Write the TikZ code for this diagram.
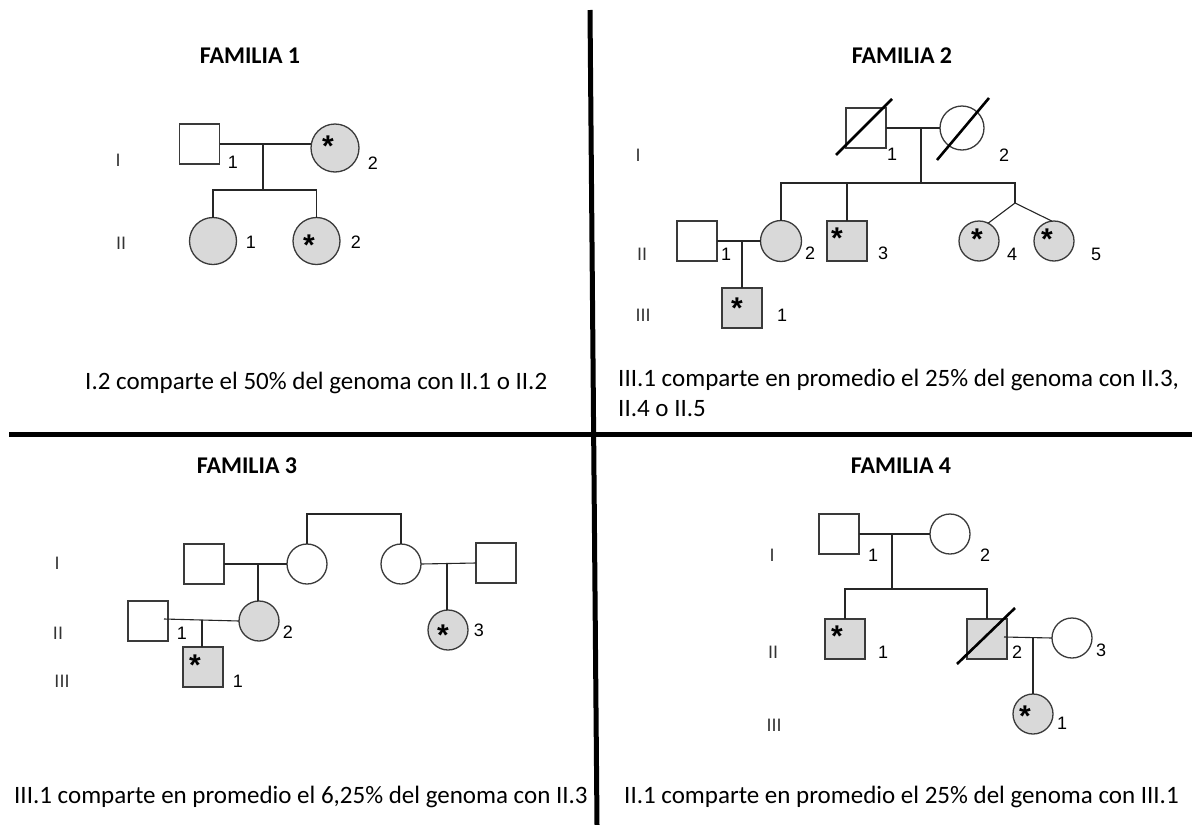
\documentclass[tikz,border=0pt]{standalone}
\usepackage{fontspec}
\usetikzlibrary{calc}
\newfontfamily\calib{Carlito}
\newfontfamily\arialf{Liberation Sans}
\definecolor{outline}{HTML}{3A3A3A}
\definecolor{affected}{HTML}{D9D9D9}
\tikzset{
  ind/.style={draw=outline, line width=1.3pt, inner sep=0pt, outer sep=0pt, fill=white},
  male/.style={ind, rectangle, minimum size=40pt},
  female/.style={ind, circle, minimum size=40pt},
  aff/.style={fill=affected},
  link/.style={draw=black!85, line width=1.1pt},
  slash/.style={draw=black, line width=2.6pt},
  divider/.style={draw=black, line width=5pt},
  num/.style={font=\arialf\fontsize{18}{20}\selectfont, inner sep=0pt},
  gen/.style={font=\arialf\fontsize{18}{20}\selectfont, text=black!80, inner sep=0pt},
  astk/.style={font=\arialf\bfseries\fontsize{30}{30}\selectfont, inner sep=0pt, anchor=north},
  famtitle/.style={font=\calib\bfseries\fontsize{24}{28}\selectfont, inner sep=0pt},
  summary/.style={font=\calib\fontsize{25}{30}\selectfont, inner sep=0pt, anchor=west, align=left},
}
\begin{document}
\begin{tikzpicture}[x=1pt, y=-1pt]
\useasboundingbox (0,0) rectangle (1192,825);

% quadrant dividers
\draw[divider] (590,10) -- (597,825);
\draw[divider] (9,434) -- (1192,434);

% ---------------- FAMILIA 1 ----------------
\node[famtitle] (t1) at (250,56) {FAMILIA 1};
\node[male] (f1a) at (199.5,144) {};
\node[female,aff,minimum size=48pt] (f1b) at (335,148) {};
\node[female,aff,minimum size=47pt] (f1c) at (213,241) {};
\node[female,aff,minimum size=47pt] (f1d) at (316.5,241) {};
\coordinate (f1m) at (263,144);
\coordinate (f1s) at (263,190);
\draw[link] (f1a.east) -- (f1a.east -| f1b.west);
\draw[link] (f1m) -- (f1s);
\draw[link] (f1c.north) |- (f1s) -| (f1d.north);
\node[astk] (f1bs) at (328,136) {*};
\node[astk] (f1ds) at (309,235) {*};
\node[gen] (f1g1) at (118,160) {I};
\node[gen] (f1g2) at (121,243) {II};
\node[num] (f1n1) at (233,162) {1};
\node[num] (f1n2) at (373,163) {2};
\node[num] (f1n3) at (251,242) {1};
\node[num] (f1n4) at (356,242) {2};
\node[summary] (f1t) at (85,383) {I.2 comparte el 50\% del genoma con II.1 o II.2};

% ---------------- FAMILIA 2 ----------------
\node[famtitle] (t2) at (902,56) {FAMILIA 2};
\node[male] (f2a) at (866,128) {};
\node[female,minimum size=44pt] (f2b) at (962,128) {};
\draw[slash] ($(f2a.center)+(-30,27)$) -- ($(f2a.center)+(26,-29)$);
\draw[slash] ($(f2b.center)+(-25,32)$) -- ($(f2b.center)+(27,-30)$);
\coordinate (f2m) at (921,128);
\coordinate (f2s) at (921,183);
\coordinate (f2t) at (1015,203);
\draw[link] (f2a.east) -- (f2b.west);
\draw[link] (f2m) -- (f2s);
\node[female,aff,minimum size=41pt] (f2c) at (781,241) {};
\node[male,aff] (f2d) at (847,241) {};
\node[female,aff] (f2e) at (979,241) {};
\node[female,aff] (f2f) at (1054,241) {};
\node[male] (f2g) at (697,241) {};
\node[male,aff] (f2h) at (742,308) {};
\draw[link] (f2c.north) |- (f2t |- f2s) -- (f2t);
\draw[link] (f2d.north) -- (f2d.north |- f2s);
\draw[link] (f2t) -- (f2e.63);
\draw[link] (f2t) -- (f2f.96);
\draw[link] (f2g.east) -- (f2c.west);
\coordinate (f2k) at (742,241);
\draw[link] (f2k) -- (f2h.north);
\node[astk] (f2ds) at (837,228) {*};
\node[astk] (f2es) at (977,229) {*};
\node[astk] (f2fs) at (1047,229) {*};
\node[astk] (f2hs) at (737,298) {*};
\node[gen] (f2g1) at (638,155) {I};
\node[gen] (f2g2) at (642,254) {II};
\node[gen] (f2g3) at (643,315) {III};
\node[num] (f2n1) at (892,154) {1};
\node[num] (f2n2) at (1004,155) {2};
\node[num] (f2n3) at (726,254) {1};
\node[num] (f2n4) at (810,253) {2};
\node[num] (f2n5) at (883,253) {3};
\node[num] (f2n6) at (1012,254) {4};
\node[num] (f2n7) at (1096,254) {5};
\node[num] (f2n8) at (782,315) {1};
\node[summary, anchor=north west] (f2t) at (618,369) {III.1 comparte en promedio el 25\% del genoma con II.3,\\II.4 o II.5};

% ---------------- FAMILIA 3 ----------------
\node[famtitle] (t3) at (247,466) {FAMILIA 3};
\node[male] (f3a) at (204,564) {};
\node[female] (f3b) at (307,564) {};
\node[male] (f3c) at (148,621) {};
\node[female,aff] (f3d) at (259,621) {};
\node[male,aff] (f3e) at (203,667) {};
\node[female] (f3f) at (401,564) {};
\node[male] (f3g) at (496,563) {};
\node[female,aff] (f3h) at (448,630) {};
\coordinate (f3m) at (258,564);
\draw[link] (f3a.east) -- (f3b.west);
\draw[link] (f3m) -- (f3m |- f3d.north);
\draw[link] ($(f3c.center)+(16,-2)$) -- (f3d.west);
\coordinate (f3k) at (202,620);
\draw[link] (f3k) -- (f3k |- f3e.north);
\draw[link] (f3b.north) -- ++(0,-30) -| (f3f.north);
\draw[link] (f3f.east) -- (f3g.west);
\coordinate (f3n) at (447,563);
\draw[link] (f3n) -- (f3n |- f3h.north);
\node[astk] (f3es) at (195,655) {*};
\node[astk] (f3hs) at (443,625) {*};
\node[gen] (f3g1) at (57,563) {I};
\node[gen] (f3g2) at (58,633) {II};
\node[gen] (f3g3) at (62,681) {III};
\node[num] (f3n1) at (182,633) {1};
\node[num] (f3n2) at (288,632) {2};
\node[num] (f3n3) at (238,681) {1};
\node[num] (f3n4) at (479,630) {3};
\node[summary] (f3t) at (14,797) {III.1 comparte en promedio el 6,25\% del genoma con II.3};

% ---------------- FAMILIA 4 ----------------
\node[famtitle] (t4) at (901,466) {FAMILIA 4};
\node[male] (f4a) at (839,534) {};
\node[female] (f4b) at (950,534) {};
\node[male,aff] (f4c) at (845,639) {};
\node[male,aff] (f4d) at (987,639) {};
\node[female] (f4e) at (1072,638) {};
\node[female,aff] (f4f) at (1033,714) {};
\draw[slash] ($(f4d.center)+(-30,25)$) -- ($(f4d.center)+(28,-31)$);
\coordinate (f4m) at (892,534);
\coordinate (f4s) at (892,589);
\draw[link] (f4a.east) -- (f4b.west);
\draw[link] (f4m) -- (f4s);
\draw[link] (f4c.north) |- (f4s) -| (f4d.north);
\draw[link] ($(f4d.center)+(17,-2)$) -- (f4e.west);
\coordinate (f4k) at (1033,637);
\draw[link] (f4k) -- (f4f.north);
\node[astk] (f4cs) at (837,626) {*};
\node[astk] (f4fs) at (1025,706) {*};
\node[gen] (f4g1) at (772,555) {I};
\node[gen] (f4g2) at (773,652) {II};
\node[gen] (f4g3) at (774,725) {III};
\node[num] (f4n1) at (873,555) {1};
\node[num] (f4n2) at (985,555) {2};
\node[num] (f4n3) at (883,652) {1};
\node[num] (f4n4) at (1017,652) {2};
\node[num] (f4n5) at (1101,650) {3};
\node[num] (f4n6) at (1062,723) {1};
\node[summary] (f4t) at (624,797) {II.1 comparte en promedio el 25\% del genoma con III.1};
\end{tikzpicture}
\end{document}
